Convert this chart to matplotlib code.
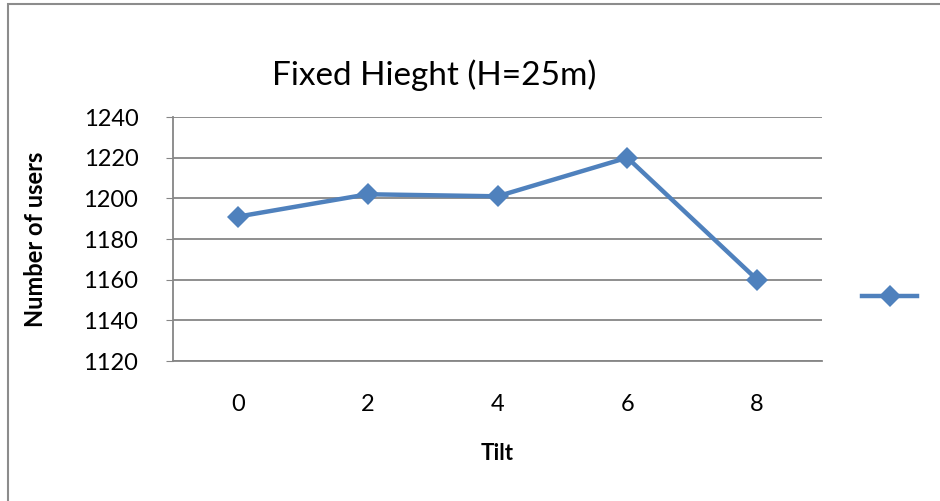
import matplotlib.pyplot as plt
from matplotlib.patches import Rectangle
from matplotlib.lines import Line2D

tilt = ['0', '2', '4', '6', '8']
users = [1191, 1202, 1201, 1220, 1160]
yticks = [1120, 1140, 1160, 1180, 1200, 1220, 1240]

blue = '#4F81BD'
grid_gray = '#868686'
plt.rcParams['font.family'] = ['Lato', 'DejaVu Sans']

W, H = 940, 501
fig = plt.figure(figsize=(W / 100, H / 100), dpi=100)
ax = fig.add_axes([173 / W, 1 - 361 / H, (822 - 173) / W, (361 - 117) / H])

x = list(range(len(tilt)))
ax.plot(x, users, '-', color=blue, lw=3.2, marker='D', markersize=11,
        markeredgewidth=0, label=' ', zorder=3)

ax.set_xlim(-0.5, len(tilt) - 0.5)
ax.set_ylim(1120, 1240)
ax.set_yticks(yticks)
ax.set_xticks(x)
ax.set_xticklabels(tilt)
ax.yaxis.grid(True, color=grid_gray, lw=1.3)
ax.set_axisbelow(True)

for s in ['top', 'right']:
    ax.spines[s].set_visible(False)
for s in ['left', 'bottom']:
    ax.spines[s].set_color(grid_gray)
    ax.spines[s].set_linewidth(1.3)
ax.tick_params(axis='y', direction='out', length=5, color=grid_gray,
               labelsize=17, pad=20)
ax.tick_params(axis='x', length=0, labelsize=17, pad=24)

ax.set_xlabel('Tilt', fontsize=16, fontweight='bold', labelpad=20)
ax.set_ylabel('Number of users', fontsize=17, fontweight='bold', labelpad=26)
fig.text(434 / W, 1 - 75 / H, 'Fixed Hieght (H=25m)', fontsize=24,
         ha='center', va='center')

# legend entry without text
fig.add_artist(Line2D([862 / W, 917 / W], [1 - 296 / H, 1 - 296 / H],
                      color=blue, lw=3.2, transform=fig.transFigure))
fig.add_artist(Line2D([889.5 / W], [1 - 296 / H], color=blue, marker='D',
                      markersize=11, markeredgewidth=0,
                      transform=fig.transFigure))

# chart area border (cut off at right and bottom)
fig.add_artist(Rectangle((8 / W, -0.1), 1.1, 1 - 4 / H + 0.1, fill=False,
                         edgecolor='#8c8c8c', lw=1.5,
                         transform=fig.transFigure))

fig.savefig('out.png', dpi=100)
